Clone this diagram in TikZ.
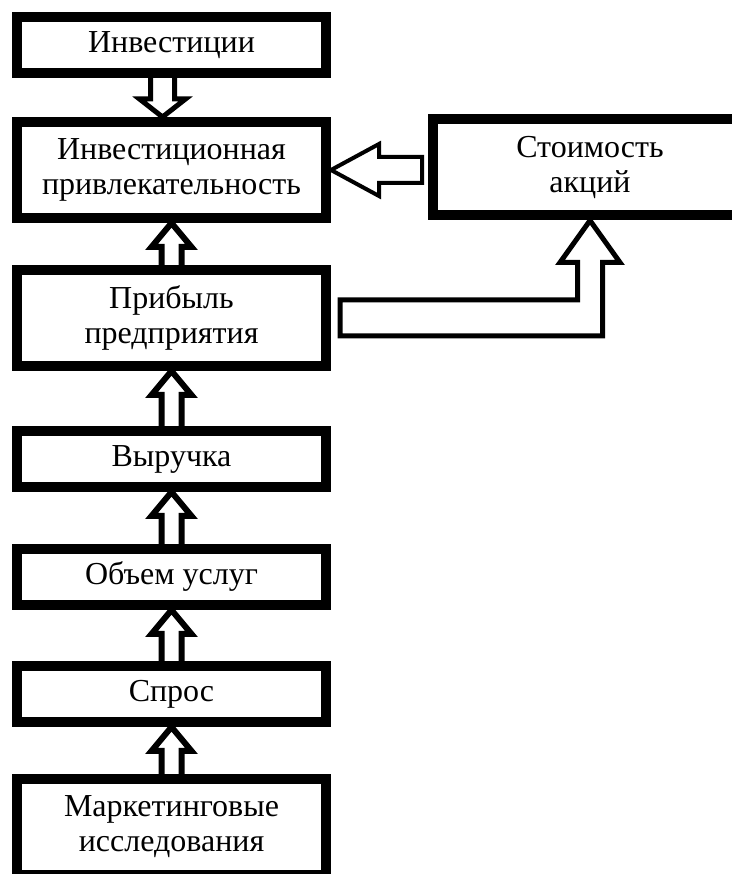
\documentclass[tikz,border=0pt]{standalone}
\usepackage{fontspec}
\setmainfont{Liberation Serif}
\usetikzlibrary{positioning,calc}
\tikzset{
  factbox/.style={rectangle,draw=black,fill=white,line width=5pt,
    minimum width=154.5pt,minimum height=28pt,align=center,
    font=\fontsize{16}{17.5}\selectfont,inner sep=2pt},
  tallbox/.style={factbox,minimum height=48pt},
  blockarr/.style={draw=black,line width=3pt,line join=miter},
}
% hollow block arrow going up from #1 to #2
\newcommand{\blockup}[2]{%
  \draw[blockarr] ($(#1.north)+(-10,-2)$) -- ($(#2.south)+(-10,-24)$)
    -- ++(-10,0) -- (#2.south) -- ++(20,-24) -- ++(-10,0)
    -- ($(#1.north)+(10,-2)$);}

\begin{document}
\begin{tikzpicture}[x=0.5pt,y=0.5pt]
  \clip (0,0) rectangle (732,874);
  \fill[white] (0,0) rectangle (732,874);
  \node[factbox] (inv) at (171.5,829) {Инвестиции};
  \node[tallbox, below=19.5pt of inv]  (priv)  {Инвестиционная\\привлекательность};
  \node[tallbox, below=21pt of priv]   (prib)  {Прибыль\\предприятия};
  \node[factbox, below=27.5pt of prib] (vyr)   {Выручка};
  \node[factbox, below=26pt of vyr]    (obem)  {Объем услуг};
  \node[factbox, below=25.5pt of obem] (spros) {Спрос};
  \node[tallbox, below=23.5pt of spros] (mark) {Маркетинговые\\исследования};
  \node[tallbox, minimum width=157pt, right=48.5pt of priv, yshift=1.25pt] (stoim) {Стоимость\\акций};
  % down arrow
  \draw[blockarr,line width=2.5pt] ($(inv.south)+(-21,2)$) -- ($(priv.north)+(-21,18)$)
    -- ++(-11,0) -- ($(priv.north)+(-9,0)$) -- ++(23,18) -- ++(-11,0)
    -- ($(inv.south)+(3,2)$);
  \blockup{prib}{priv}
  \blockup{vyr}{prib}
  \blockup{obem}{vyr}
  \blockup{spros}{obem}
  \blockup{mark}{spros}
  % share price -> attractiveness
  \draw[blockarr,line width=2pt] (priv.east) -- ++(48,26) -- ++(0,-13)
    -- ($(stoim.west |- priv.east)+(-6,13)$) -- ++(0,-26)
    -- ($(priv.east)+(48,-13)$) -- ++(0,-13) -- cycle;
  % profit -> share price
  \draw[blockarr,line width=2.5pt] ($(prib.east)+(9,18)$) -| ($(stoim.south)+(-12.5,-42)$)
    -- ++(-17.5,0) -- (stoim.south) -- ++(30,-42) -- ++(-17.5,0)
    |- ($(prib.east)+(9,-18)$) -- cycle;
\end{tikzpicture}
\end{document}
